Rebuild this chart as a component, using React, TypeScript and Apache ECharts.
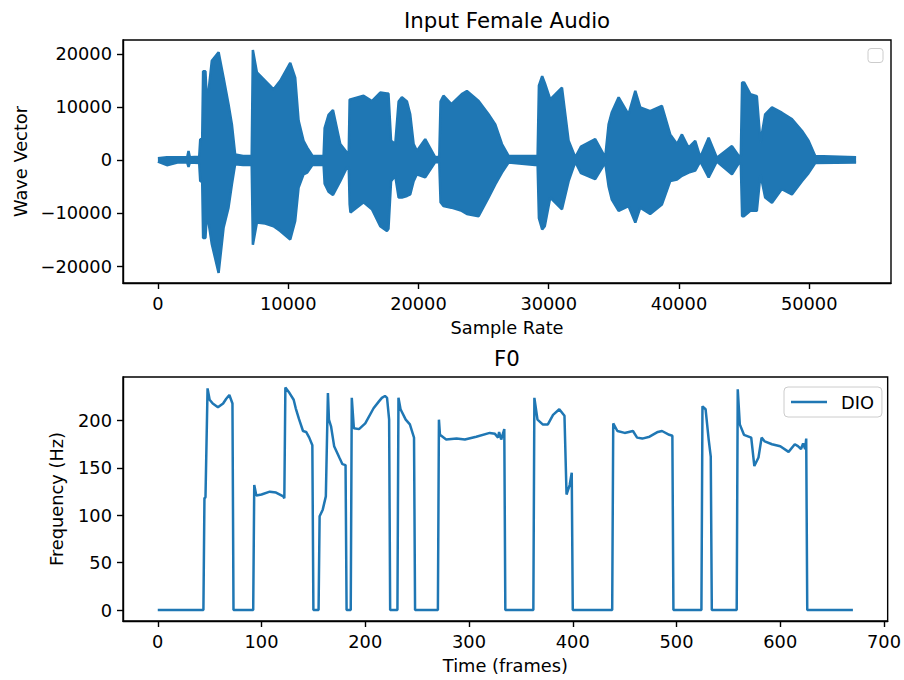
import React, { useEffect, useRef } from "react";
import * as echarts from "echarts";

// ---------- Top plot: waveform envelope (sample index, upper / lower amplitude) ----------
const waveX = [
  0, 690, 1500, 2250, 2350, 2450, 3170, 3250, 3400, 3470, 3650, 3720, 3890, 4140, 4660, 5040, 5420, 5680, 5930,
  6540, 7090, 7200, 7290, 7600, 8240, 8880, 9390, 10160, 10540, 10800, 11180, 11460, 11870, 12570, 12720, 12800,
  13100, 13440, 14000, 14510, 14650, 14720, 14780, 15790, 16430, 17070, 17580, 17700, 17900, 18220, 18480, 18730,
  19120, 19370, 19630, 19880, 20520, 21290, 21600, 21700, 21920, 22530, 23330, 23720, 24620, 25380, 25900, 26410,
  26920, 28960, 29150, 29250, 29500, 29700, 30120, 31020, 31530, 32040, 32480, 33570, 34340, 34600, 34850, 35370,
  36130, 36650, 37030, 37790, 38690, 39330, 39850, 40230, 40740, 41250, 41640, 42280, 42910, 44070, 44580, 44750,
  44850, 45000, 45480, 45980, 46260, 46620, 47140, 47900, 48670, 49440, 49950, 50460, 53600,
];
const waveUpper = [
  300, 500, 500, 500, 1700, 500, 600, 3900, 3900, 16700, 16700, 13000, 13000, 18700, 20300, 15500, 10500, 6700, 1000,
  750, 750, 750, 20700, 16500, 14900, 13300, 14900, 18300, 15500, 7400, 3600, 2300, 750, 750, 750, 6000,
  8500, 9400, 3000, 1400, 1400, 11400, 11400, 12100, 11100, 12700, 12500, 12500, 3600, 3000, 11000, 11800,
  11000, 8600, 3000, 1700, 3900, 500, 600, 11000, 12100, 10500, 12400, 13000, 11100, 8600, 6700, 3000,
  750, 750, 750, 14000, 15800, 14500, 11400, 13600, 3600, 500, 2500, 3900, 500, 6700, 9000, 11800,
  8600, 13000, 9900, 9200, 10200, 4800, 3000, 4800, 2300, 3600, 500, 4200, 400, 2600, 800, 800,
  14600, 14600, 12400, 12000, 3300, 8600, 9900, 8900, 7700, 5500, 3600, 750, 500,
];
const waveLower = [
  -300, -1000, -500, -500, -1300, -500, -600, -4000, -4000, -14700, -14700, -11800, -11800, -15900, -21300, -12800, -9000, -4600, -800,
  -950, -950, -950, -16000, -11800, -12000, -12500, -13400, -15000, -11500, -5200, -2700, -2400, -900, -950, -950, -4500,
  -6000, -6600, -4000, -1400, -1400, -8400, -9900, -8000, -9300, -12500, -13400, -13000, -4000, -3000, -7100, -7100,
  -6800, -6500, -4000, -2700, -3300, -400, -500, -8000, -8700, -9000, -9600, -10200, -10600, -7100, -4600, -2400,
  -500, -950, -900, -11000, -13100, -12500, -7100, -9300, -4000, -400, -2500, -3600, -500, -5000, -7500, -9600,
  -8700, -11800, -9000, -10200, -8400, -4000, -3700, -3000, -2400, -2000, -300, -3300, -300, -2700, -700, -700,
  -10600, -10600, -9600, -9600, -2700, -7100, -8100, -5500, -6500, -4000, -2500, -600, -500,
];

// ---------- Bottom plot: F0 contour (frame, Hz) ----------
const f0Frames = [
  0, 44, 45, 46, 48, 50, 53, 58, 63, 66, 69, 72, 73,
  92, 93, 95, 100, 108, 114, 121, 122, 123, 127, 131, 133, 136, 140, 143, 146, 149, 150,
  155, 156, 159, 162, 164, 165, 167, 170, 175, 178, 181, 182,
  186, 187, 189, 194, 200, 208, 213, 216, 219, 221, 223, 224,
  231, 232, 234, 239, 243, 247, 248,
  270, 271, 272, 278, 288, 296, 307, 320, 325, 328, 329, 331, 334, 335,
  362, 363, 366, 371, 376, 381, 387, 392, 394, 397, 399, 400,
  438, 439, 443, 450, 458, 462, 467, 474, 482, 486, 493, 496, 497,
  524, 525, 528, 531, 533, 534,
  558, 559, 561, 565, 572, 575, 579, 582, 585, 592, 600, 608, 614, 617, 620, 622, 624, 625, 626, 670,
];
const f0Hz = [
  0, 0, 118, 119, 234, 222, 218, 214, 218, 223, 227, 218, 0,
  0, 132, 121, 122, 125, 124, 120, 118, 235, 229, 222, 213, 202, 189, 188, 182, 174, 0,
  0, 99, 106, 120, 229, 201, 194, 173, 161, 154, 153, 0,
  0, 224, 192, 191, 197, 213, 220, 224, 226, 224, 201, 0,
  0, 224, 212, 201, 196, 182, 0,
  0, 201, 185, 180, 181, 180, 183, 187, 186, 182, 188, 180, 191, 0,
  0, 224, 201, 196, 196, 206, 212, 205, 122, 132, 145, 0,
  0, 197, 189, 187, 189, 182, 181, 183, 188, 189, 185, 184, 0,
  0, 215, 212, 180, 162, 0,
  0, 233, 196, 185, 182, 152, 161, 182, 178, 175, 173, 167, 175, 173, 170, 176, 170, 181, 0, 0,
];

const waveXTicks = [0, 10000, 20000, 30000, 40000, 50000];
const waveYTicks = [-20000, -10000, 0, 10000, 20000];
const f0XTicks = [0, 100, 200, 300, 400, 500, 600, 700];
const f0YTicks = [0, 50, 100, 150, 200];

const BLUE = "#1f77b4";
const FONT = "DejaVu Sans";
const FS = 17.8;
const TITLE_FS = 21.3;
const fmt = (v: number) => (v < 0 ? "\u2212" + Math.abs(v) : String(v));

function axis(ticks: number[], extra: any) {
  return {
    type: "value",
    axisLine: { show: true, onZero: false, lineStyle: { color: "#000", width: 1.4 } },
    axisTick: { show: true, inside: false, length: 6, lineStyle: { color: "#000", width: 1.4 }, customValues: ticks },
    axisLabel: { color: "#000", fontFamily: FONT, fontSize: FS, margin: 11, customValues: ticks, formatter: fmt },
    splitLine: { show: false },
    nameLocation: "middle",
    nameTextStyle: { color: "#000", fontFamily: FONT, fontSize: FS },
    ...extra,
  };
}

export default function App() {
  const ref = useRef<HTMLDivElement>(null);
  useEffect(() => {
    document.body.style.margin = "0";
    if (!ref.current) return;
    const chart = echarts.init(ref.current, null, { renderer: "svg" });
    const upper = waveX.map((x, i) => [x, waveUpper[i]]);
    const lower = waveX.map((x, i) => [x, waveLower[i]]);
    const f0 = f0Frames.map((x, i) => [x, f0Hz[i]]);
    chart.setOption({
      animation: false,
      backgroundColor: "#fff",
      title: [
        {
          text: "Input Female Audio",
          left: 507,
          top: 10,
          padding: 0,
          textAlign: "center",
          textStyle: { fontFamily: FONT, fontSize: TITLE_FS, fontWeight: "normal", color: "#000" },
        },
        {
          text: "F0",
          left: 507,
          top: 348,
          padding: 0,
          textAlign: "center",
          textStyle: { fontFamily: FONT, fontSize: TITLE_FS, fontWeight: "normal", color: "#000" },
        },
      ],
      legend: {
        data: ["DIO"],
        left: 784,
        top: 387,
        icon: "rect",
        itemWidth: 36,
        itemHeight: 2.7,
        backgroundColor: "#fff",
        borderColor: "#cccccc",
        borderWidth: 1,
        borderRadius: 4,
        padding: [6, 8, 6, 7],
        textStyle: { fontFamily: FONT, fontSize: FS, color: "#000", padding: [0, 0, 0, 9] },
      },
      grid: [
        { left: 123, top: 40, width: 768, height: 243, show: true, borderColor: "#000", borderWidth: 1.4, backgroundColor: "transparent" },
        { left: 123, top: 377, width: 768, height: 244, show: true, borderColor: "#000", borderWidth: 1.4, backgroundColor: "transparent" },
      ],
      xAxis: [
        axis(waveXTicks, { gridIndex: 0, min: -2680, max: 56280, name: "Sample Rate", nameGap: 35 }),
        axis(f0XTicks, { gridIndex: 1, min: -33.5, max: 703.5, name: "Time (frames)", nameGap: 35 }),
      ],
      yAxis: [
        axis(waveYTicks, { gridIndex: 0, min: -23200, max: 22600, name: "Wave Vector", nameGap: 93 }),
        axis(f0YTicks, { gridIndex: 1, min: -11.5, max: 246, name: "Frequency (Hz)", nameGap: 58 }),
      ],
      graphic: [
        {
          type: "rect",
          x: 868,
          y: 48.5,
          shape: { width: 15, height: 14, r: 3 },
          style: { fill: "#fff", stroke: "#cccccc", lineWidth: 1 },
        },
      ],
      series: [
        {
          name: "wave+",
          type: "line",
          xAxisIndex: 0,
          yAxisIndex: 0,
          data: upper,
          showSymbol: false,
          silent: true,
          lineStyle: { color: BLUE, width: 2.5 },
          itemStyle: { color: BLUE },
          areaStyle: { color: BLUE, opacity: 1 },
        },
        {
          name: "wave-",
          type: "line",
          xAxisIndex: 0,
          yAxisIndex: 0,
          data: lower,
          showSymbol: false,
          silent: true,
          lineStyle: { color: BLUE, width: 2.5 },
          itemStyle: { color: BLUE },
          areaStyle: { color: BLUE, opacity: 1 },
        },
        {
          name: "DIO",
          type: "line",
          xAxisIndex: 1,
          yAxisIndex: 1,
          data: f0,
          showSymbol: false,
          lineStyle: { color: BLUE, width: 2.5 },
          itemStyle: { color: BLUE },
        },
      ],
    });
    return () => chart.dispose();
  }, []);
  return <div ref={ref} style={{ width: 904, height: 680 }} />;
}
